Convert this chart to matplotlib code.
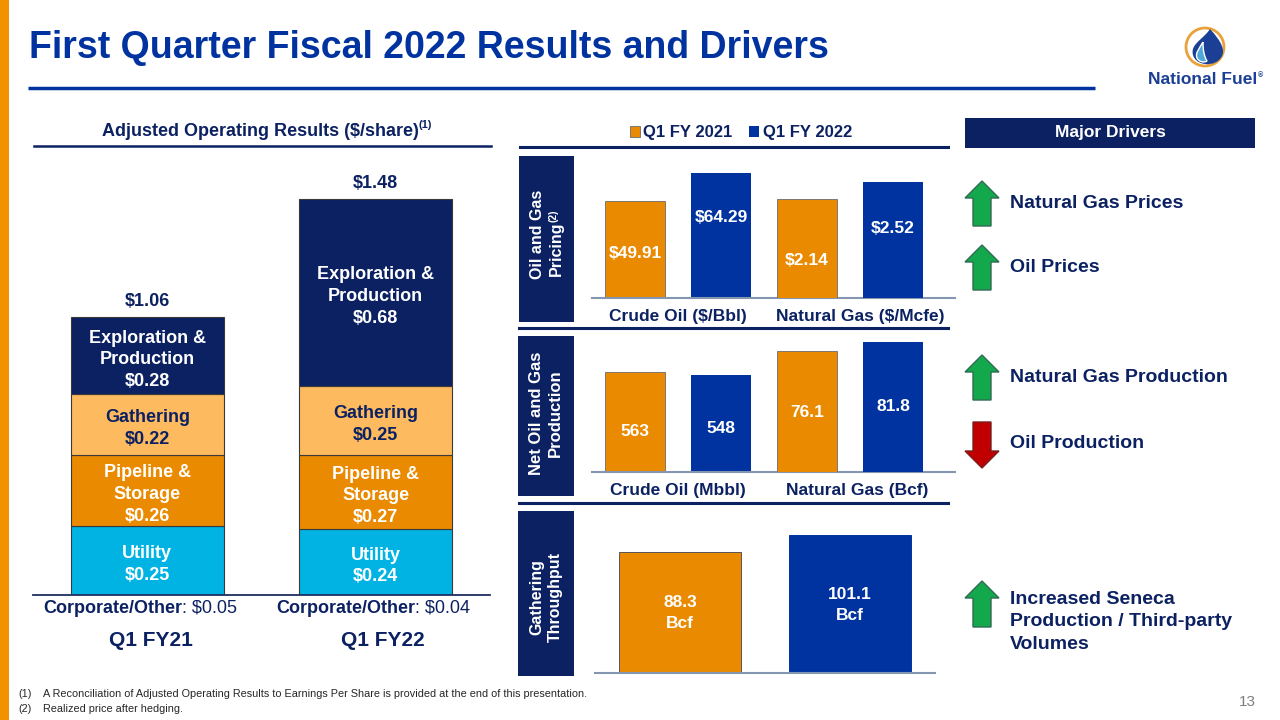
import matplotlib.pyplot as plt
import matplotlib as mpl
from matplotlib.patches import Rectangle, Polygon, Circle, PathPatch
from matplotlib.path import Path

mpl.rcParams.update({'font.family': 'Liberation Sans', 'font.weight': 'bold'})

W, H = 1280, 720
NAVY = '#0C2162'; BLUE = '#0033A0'; ORANGE = '#E98A00'; LORANGE = '#FDBA5E'
CYAN = '#00B3E3'; TITLE = '#0033A0'; STRIPE = '#F39200'; BASE = '#8596B0'

# ---- data ----
periods = ['Q1 FY21', 'Q1 FY22']
segments = ['Utility', 'Pipeline &\nStorage', 'Gathering', 'Exploration &\nProduction']
seg_fy21 = [0.25, 0.26, 0.22, 0.28]
seg_fy22 = [0.24, 0.27, 0.25, 0.68]
corporate = [0.05, 0.04]
totals = [1.06, 1.48]

series = ['Q1 FY 2021', 'Q1 FY 2022']
price_cats = ['Crude Oil ($/Bbl)', 'Natural Gas ($/Mcfe)']
price_21 = [49.91, 2.14]
price_22 = [64.29, 2.52]
prod_cats = ['Crude Oil (Mbbl)', 'Natural Gas (Bcf)']
prod_21 = [563, 76.1]
prod_22 = [548, 81.8]
gathering = [88.3, 101.1]

drivers = ['Natural Gas Prices', 'Oil Prices', 'Natural Gas Production', 'Oil Production',
           'Increased Seneca\nProduction / Third-party\nVolumes']
driver_dir = ['up', 'up', 'up', 'down', 'up']

fig = plt.figure(figsize=(12.8, 7.2), dpi=100)
fig.patch.set_facecolor('white')

def pax(x0, y0, x1, y1):
    a = fig.add_axes([x0 / W, 1 - y1 / H, (x1 - x0) / W, (y1 - y0) / H])
    a.set_facecolor('none')
    return a

bg = fig.add_axes([0, 0, 1, 1]); bg.set_xlim(0, W); bg.set_ylim(H, 0); bg.axis('off')

# header
bg.add_patch(Rectangle((0, 0), 9, H, color=STRIPE, lw=0))
bg.text(29, 48, 'First Quarter Fiscal 2022 Results and Drivers', fontsize=27, color=TITLE, va='center')
bg.plot([28, 1095], [88, 88], color=BLUE, lw=2.5, solid_capstyle='butt')

# logo
bg.add_patch(Circle((1205, 47), 19, facecolor='white', edgecolor='#E9A23B', lw=2))
outer = Path([(1210, 29), (1222, 42), (1225, 50), (1222, 56), (1219, 62), (1212, 65), (1205, 64),
              (1196, 63), (1191, 56), (1193, 49), (1195, 42), (1205, 37), (1210, 29)],
             [1, 4, 4, 4, 4, 4, 4, 4, 4, 4, 4, 4, 4])
inner = Path([(1203, 42), (1199, 49), (1195, 53), (1197, 58), (1199, 62), (1204, 63), (1207, 61),
              (1204, 56), (1203, 50), (1203, 42)], [1, 4, 4, 4, 4, 4, 4, 4, 4, 4])
bg.add_patch(PathPatch(outer, facecolor='#1B3F94', edgecolor='none'))
bg.add_patch(PathPatch(inner, facecolor='#4FA8DC', edgecolor='white', lw=1))
lt = bg.text(1203, 80, 'National Fuel', fontsize=12.5, color='#1B3F94', ha='center', va='center')
bg.annotate('®', xy=(1, 0.8), xycoords=lt, fontsize=5, color='#1B3F94', va='center')

# ---- left: stacked bars ----
lt1 = bg.text(260, 132, 'Adjusted Operating Results ($/share)', fontsize=13, color=NAVY,
              ha='center', va='center')
bg.annotate('(1)', xy=(1, 0.9), xycoords=lt1, fontsize=8, color=NAVY, va='center')
bg.plot([34, 491], [146, 146], color=NAVY, lw=1.8)

ax = pax(33, 150, 490, 595)
seg_colors = [CYAN, ORANGE, LORANGE, NAVY]
seg_text = ['white', 'white', NAVY, 'white']
bottoms = [0.0, 0.0]
for seg, v21, v22, col, tc in zip(segments, seg_fy21, seg_fy22, seg_colors, seg_text):
    vals = [v21, v22]
    ax.bar([0, 1], vals, bottom=bottoms, width=0.67, color=col, edgecolor='#3A3A3A', lw=0.8)
    for x, v, b in zip([0, 1], vals, bottoms):
        ax.text(x, b + v / 2 - 0.015, f'{seg}\n${v:.2f}', ha='center', va='center',
                fontsize=13, color=tc, linespacing=1.36)
    bottoms = [b + v for b, v in zip(bottoms, vals)]
for x, top, tot in zip([0, 1], bottoms, totals):
    ax.annotate(f'${tot:.2f}', xy=(x, top), xytext=(0, 5), textcoords='offset points',
                ha='center', va='bottom', fontsize=13, color=NAVY)
ax.set_xlim(-0.5, 1.5); ax.set_ylim(0, 1.618); ax.axis('off')
ax.axhline(0, color='#1F2F5F', lw=1.3, clip_on=False)

for x0, c in zip([43, 276], corporate):
    t = bg.text(x0, 613, 'Corporate/Other', fontsize=13, color=NAVY, ha='left', va='baseline')
    bg.annotate(f': ${c:.2f}', xy=(1, 613), xycoords=(t, 'data'), fontsize=13, color=NAVY,
                fontweight='normal', ha='left', va='baseline')
for x0, p in zip([151, 383], periods):
    bg.text(x0, 641, p, fontsize=15, color=NAVY, ha='center', va='center')

# ---- middle panels ----
bg.plot([520, 948], [147, 147], color=NAVY, lw=2.2)
bg.plot([519, 948], [328, 328], color=NAVY, lw=2.2)
bg.plot([519, 948], [503, 503], color=NAVY, lw=2.2)

for (x0, y0, x1, y1) in [(519, 156, 574, 322), (518, 336, 574, 496), (518, 511, 574, 676)]:
    bg.add_patch(Rectangle((x0, y0), x1 - x0, y1 - y0, color=NAVY, lw=0))
bg.text(538, 234, 'Oil and Gas', rotation=90, fontsize=11.5, color='white', ha='center', va='center')
pt = bg.text(556, 249, 'Pricing', rotation=90, fontsize=11.5, color='white', ha='center', va='center')
bg.annotate('(2)', xy=(0, 1), xycoords=pt, rotation=90, fontsize=7.5, color='white',
            ha='left', va='bottom')
bg.text(546, 413, 'Net Oil and Gas\nProduction', rotation=90, fontsize=12, color='white',
        ha='center', va='center', linespacing=1.3)
bg.text(546, 597, 'Gathering\nThroughput', rotation=90, fontsize=11.5, color='white',
        ha='center', va='center', linespacing=1.3)

def pair_panel(y0, y1, v21, v22, lims, fracs, fmt):
    a = pax(592, y0, 955, y1)
    b = a.twinx(); b.set_facecolor('none')
    handles = []
    for axis, k, xs in [(a, 0, [0, 1]), (b, 1, [2, 3])]:
        h1 = axis.bar(xs[0], v21[k], width=0.69, color=ORANGE, edgecolor='#6B6B6B', lw=0.6)
        h2 = axis.bar(xs[1], v22[k], width=0.69, color=BLUE)
        handles = handles or [h1, h2]
        for x, v, f in zip(xs, [v21[k], v22[k]], fracs[2 * k:2 * k + 2]):
            axis.text(x, v * f, fmt(v), ha='center', va='center', fontsize=12.5, color='white')
        axis.set_ylim(0, lims[k]); axis.axis('off')
    a.set_xlim(-0.5, 3.72)
    a.axhline(0, color=BASE, lw=1.5, clip_on=False)
    return handles

h = pair_panel(150, 298, price_21, price_22, [76.1, 3.215], [0.46, 0.64, 0.38, 0.60],
               lambda v: f'${v:.2f}')
pair_panel(335, 472, prod_21, prod_22, [771, 86.2], [0.40, 0.45, 0.49, 0.50], lambda v: f'{v:g}')
for x0, y0, s in [(678, 316, price_cats[0]), (860, 316, price_cats[1]),
                  (678, 490, prod_cats[0]), (857, 490, prod_cats[1])]:
    bg.text(x0, y0, s, fontsize=12.5, color=NAVY, ha='center', va='center')

ag = pax(595, 510, 935, 673)
ag.bar([0, 1], gathering, width=0.72, color=[ORANGE, BLUE], edgecolor=['#555555', BLUE], lw=0.7)
for x, v, f in zip([0, 1], gathering, [0.50, 0.49]):
    ag.text(x, v * f, f'{v:g}\nBcf', ha='center', va='center', fontsize=12.5, color='white',
            linespacing=1.5)
ag.set_xlim(-0.5, 1.5); ag.set_ylim(0, 119.4); ag.axis('off')
ag.axhline(0, color=BASE, lw=1.5, clip_on=False)

fig.legend(h, series, loc='center', bbox_to_anchor=(741 / W, 1 - 133 / H), ncol=2, frameon=False,
           handlelength=0.6, handleheight=0.6, handletextpad=0.2, columnspacing=1.0,
           prop={'weight': 'bold', 'size': 12}, labelcolor=NAVY)

# ---- right: major drivers ----
bg.add_patch(Rectangle((965, 118), 290, 30, color=NAVY, lw=0))
bg.text(1110, 133, 'Major Drivers', fontsize=12.5, color='white', ha='center', va='center')
arrow_y = [(181, 226), (245, 290), (355, 400), (422, 468), (581, 627)]
text_y = [203, 268, 378, 444, 622]
cx = 982
for d, s, (yt, yb), ty in zip(driver_dir, drivers, arrow_y, text_y):
    if d == 'up':
        pts = [(cx, yt), (cx + 17, yt + 17), (cx + 9, yt + 17), (cx + 9, yb), (cx - 9, yb),
               (cx - 9, yt + 17), (cx - 17, yt + 17)]
        fc, ec = '#13A84B', '#2F6B55'
    else:
        pts = [(cx, yb), (cx + 17, yb - 17), (cx + 9, yb - 17), (cx + 9, yt), (cx - 9, yt),
               (cx - 9, yb - 17), (cx - 17, yb - 17)]
        fc, ec = '#C00000', '#7A1F1F'
    bg.add_patch(Polygon(pts, closed=True, facecolor=fc, edgecolor=ec, lw=1))
    bg.text(1010, ty, s, fontsize=14, color=NAVY, ha='left', va='center', linespacing=1.45)

# footnotes
for y0, n, s in [(694, '(1)', 'A Reconciliation of Adjusted Operating Results to Earnings Per Share is provided at the end of this presentation.'),
                 (709, '(2)', 'Realized price after hedging.')]:
    bg.text(18, y0, n, fontsize=7.8, color='#262626', fontweight='normal', va='center')
    bg.text(43, y0, s, fontsize=7.8, color='#262626', fontweight='normal', va='center')
bg.text(1256, 702, '13', fontsize=11, color='#7F7F7F', fontweight='normal', ha='right', va='center')

plt.savefig('out.png', dpi=100, facecolor='white')
plt.close()
